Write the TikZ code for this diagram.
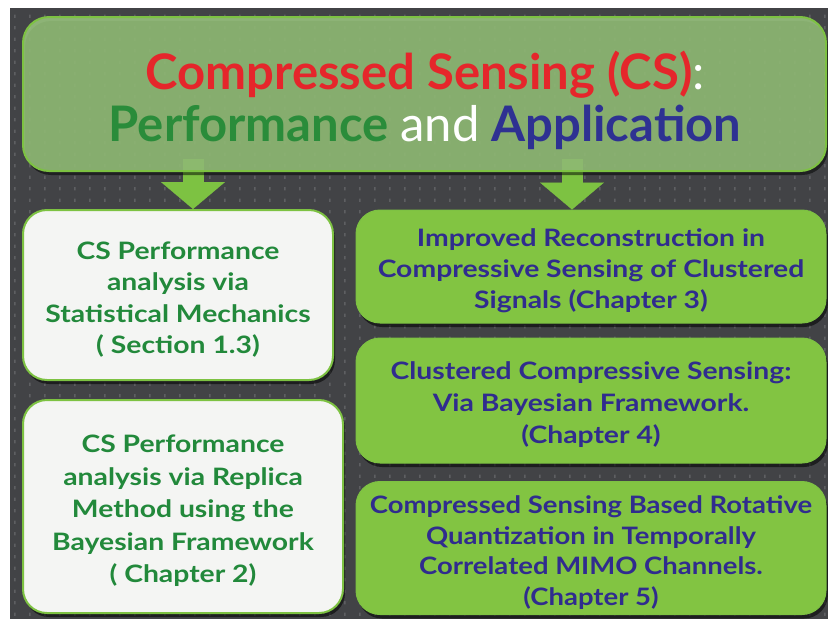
\documentclass[tikz,border=0pt]{standalone}
\usepackage{fontspec}
\setmainfont{Lato}
\newfontfamily\boxfont[FakeStretch=1.18]{Lato}
\usetikzlibrary{arrows.meta,shadows,calc}
\definecolor{bgdark}{HTML}{424346}
\definecolor{dotc}{HTML}{5E5F62}
\definecolor{brightgreen}{HTML}{7DC242}
\definecolor{topfill}{HTML}{A0D082}
\definecolor{boxgreen}{HTML}{82C442}
\definecolor{paper}{HTML}{F4F5F3}
\definecolor{titlered}{HTML}{E5262B}
\definecolor{titlegreen}{HTML}{2A8C3A}
\definecolor{titleblue}{HTML}{2E3192}
\definecolor{leftgreen}{HTML}{22893B}
\definecolor{rightblue}{HTML}{302C8E}
\tikzset{
  box/.style={rounded corners=24pt, inner sep=0pt,
    drop shadow={shadow xshift=2pt, shadow yshift=-4pt, opacity=0.55, fill=black}},
  whitebox/.style={box, fill=paper, draw=brightgreen, line width=2pt},
  greenbox/.style={box, fill=boxgreen, draw=brightgreen, line width=1pt},
  boxtext/.style={inner sep=0pt, align=center, yshift=-4.5pt},
  lefttext/.style={boxtext, text=leftgreen},
  righttext/.style={boxtext, text=rightblue},
  bigarrow/.style={draw=brightgreen, line width=21pt,
    -{Triangle[width=64pt,length=27pt,line width=0.1pt]}},
}
\begin{document}
\begin{tikzpicture}[x=1pt,y=-1pt]
\useasboundingbox (0,0) rectangle (828,619);
\fill[white] (0,0) rectangle (828,619);
\fill[bgdark] (10,8) rectangle (828,619);
\fill[dotc] \foreach \x in {14,29,...,824} {\foreach \y in {14.5,26,...,616} {(\x,\y) rectangle ++(1.6,3.4)}};

\coordinate (a1) at (193,159);
\coordinate (a2) at (572,159);

\node[whitebox, minimum width=310pt, minimum height=170pt] (l1) at (178,295) {};
\node[lefttext, font=\boxfont\bfseries\fontsize{24}{31.5}\selectfont] (l1t) at (l1.center)
  {CS Performance\\ analysis via\\ Statistical Mechanics\\ ( Section 1.3)};
\node[whitebox, minimum width=320pt, minimum height=213pt] (l2) at (183,506.5) {};
\node[lefttext, font=\boxfont\bfseries\fontsize{24}{32.5}\selectfont] (l2t) at (l2.center)
  {CS Performance\\ analysis via Replica\\ Method using the\\ Bayesian Framework\\ ( Chapter 2)};
\node[greenbox, minimum width=470pt, minimum height=113pt] (r1) at (591,266.5) {};
\node[righttext, font=\boxfont\bfseries\fontsize{24}{31}\selectfont] (r1t) at (r1.center)
  {Improved Reconstruction in\\ Compressive Sensing of Clustered\\ Signals (Chapter 3)};
\node[greenbox, minimum width=470pt, minimum height=125pt] (r2) at (591,400.5) {};
\node[righttext, font=\boxfont\bfseries\fontsize{24}{32}\selectfont] (r2t) at (r2.center)
  {Clustered Compressive Sensing:\\ Via Bayesian Framework.\\ (Chapter 4)};
\node[greenbox, minimum width=470pt, minimum height=133pt] (r3) at (591,548) {};
\node[righttext, font=\boxfont\bfseries\fontsize{24}{30.5}\selectfont, xscale=0.97] (r3t) at (r3.center)
  {Compressed Sensing Based Rotative\\ Quantization in Temporally\\ Correlated MIMO Channels.\\ (Chapter 5)};

\draw[bigarrow] (a1) -- (a1 |- l1.north);
\draw[bigarrow] (a2) -- (a2 |- r1.north);

\node[rounded corners=26pt, minimum width=803pt, minimum height=154pt, fill=topfill,
  fill opacity=0.8, draw=brightgreen, line width=2pt,
  drop shadow={shadow xshift=2pt, shadow yshift=-4pt, opacity=0.5, fill=black}] (top) at (424.5,94) {};
\node[align=center, font=\bfseries\fontsize{49}{52}\selectfont, inner sep=0pt] (title) at (425,100)
  {{\color{titlered}Compressed Sensing (CS)}{\color{white}\mdseries:}\\
   {\color{titlegreen}Performance} {\color{white}\mdseries and} {\color{titleblue}Application}};
\end{tikzpicture}
\end{document}
